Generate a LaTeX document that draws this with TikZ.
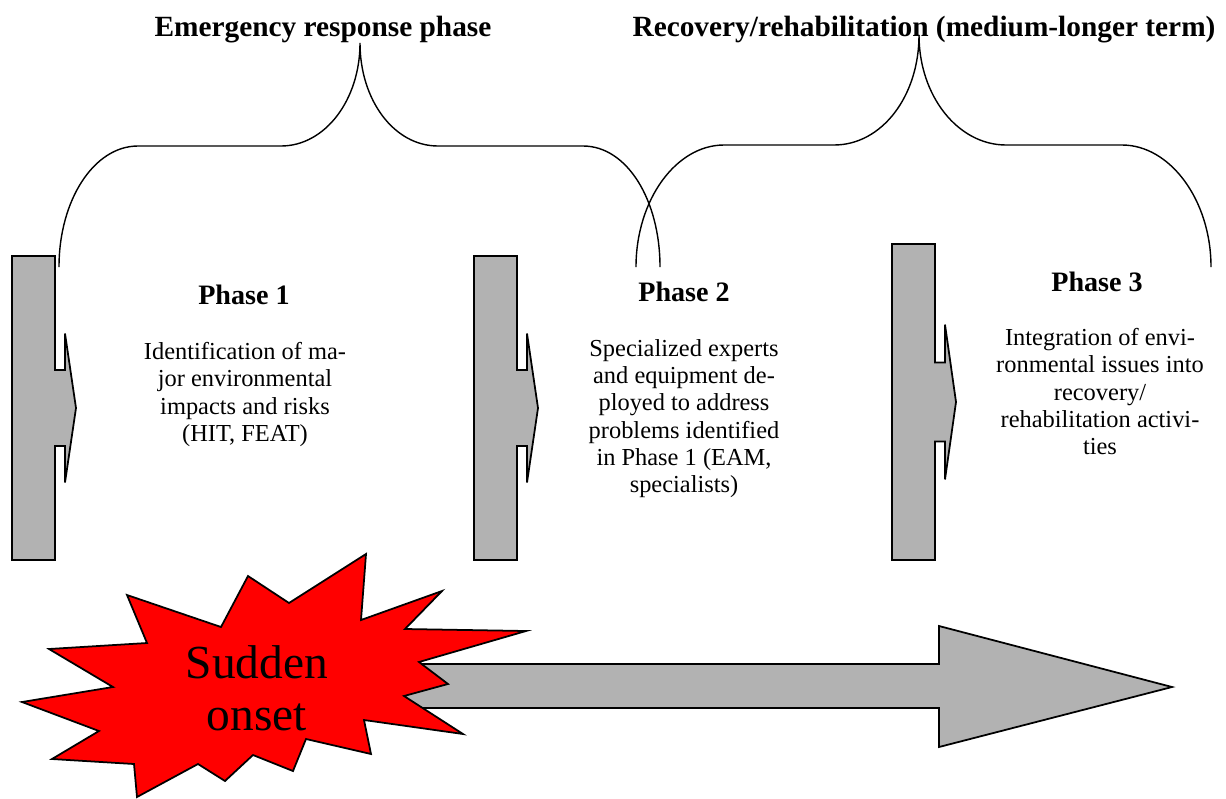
\documentclass[tikz,border=0pt]{standalone}
\usepackage{fontspec}
\setmainfont{Liberation Serif}
\usetikzlibrary{positioning,calc}
\tikzset{
    %Define style for shapes
    barshape/.style={
        draw=black, line width=1pt,
        fill=black!30,
    },
    bigarrow/.style={
        draw=black, line width=1pt,
        fill=black!30,
    },
    burst/.style={
        draw=black, line width=1pt,
        fill=red,
    },
    brace/.style={
        draw=black, line width=0.8pt,
    },
    heading/.style={
        inner sep=0pt,
        anchor=base,
        font=\fontsize{16}{19}\selectfont\bfseries,
    },
    title/.style={
        heading,
        font=\fontsize{16.7}{20}\selectfont\bfseries,
    },
    phasetxt/.style={
        inner sep=0pt,
        anchor=north,
        align=center,
        font=\fontsize{13.9}{15.5}\selectfont,
    },
    bursttxt/.style={
        inner sep=0pt,
        anchor=north,
        align=center,
        font=\fontsize{27}{30}\selectfont,
    },
}
% bar with notched arrow, #1 = left edge, #2 = top (bottom is 560)
\newcommand{\phasebar}[2]{%
    \pgfmathsetmacro{\barmid}{(#2+560)/2}
    \pgfmathsetmacro{\barnotch}{0.125*(560-#2)}
    \pgfmathsetmacro{\barhead}{0.245*(560-#2)}
    \path[barshape] (#1,#2) -- ({#1+43},#2) -- ({#1+43},{\barmid-\barnotch})
        -- ({#1+53},{\barmid-\barnotch}) -- ({#1+53},{\barmid-\barhead})
        -- ({#1+64},\barmid) -- ({#1+53},{\barmid+\barhead})
        -- ({#1+53},{\barmid+\barnotch}) -- ({#1+43},{\barmid+\barnotch})
        -- ({#1+43},560) -- (#1,560) -- cycle;
}

\begin{document}
\begin{tikzpicture}[x=0.02cm,y=-0.02cm]
    \useasboundingbox (0,0) rectangle (1226,798);

    % titles
    \node[title] (ttl1) at (323,36) {Emergency response phase};
    \node[title] (ttl2) at (924,36) {Recovery/rehabilitation (medium-longer term)};

    % braces
    \coordinate (b1l) at (59,267);
    \coordinate (b1t) at (360,43);
    \coordinate (b1r) at (660,267);
    \coordinate (b2l) at (636,267);
    \coordinate (b2t) at (919,35);
    \coordinate (b2r) at (1211,267);
    \draw[brace] (b1l) .. controls +(0,-67) and +(-44,0) .. (138,146) -- (281,146)
        .. controls +(44,0) and +(0,57) .. (b1t)
        .. controls +(0,57) and +(-44,0) .. (438,146) -- (583,146)
        .. controls +(44,0) and +(0,-67) .. (b1r);
    \draw[brace] (b2l) .. controls +(0,-67) and +(-48,0) .. (724,145) -- (834,145)
        .. controls +(48,0) and +(0,61) .. (b2t)
        .. controls +(0,61) and +(-48,0) .. (1006,145) -- (1122,145)
        .. controls +(48,0) and +(0,-67) .. (b2r);

    % phase bars
    \phasebar{12}{256}
    \phasebar{474}{256}
    \phasebar{892}{244}

    % phase texts
    \node[heading] (ph1) at (244,304) {Phase 1};
    \node[heading] (ph2) at (684,301) {Phase 2};
    \node[heading] (ph3) at (1097,291) {Phase 3};
    \node[phasetxt] (txt1) at (245,342) {Identification of ma-\\jor environmental\\impacts and risks\\(HIT, FEAT)};
    \node[phasetxt] (txt2) at (684,339) {Specialized experts\\and equipment de-\\ployed to address\\problems identified\\in Phase 1 (EAM,\\specialists)};
    \node[phasetxt] (txt3) at (1100,328) {Integration of envi-\\ronmental issues into\\recovery/\\rehabilitation activi-\\ties};

    % time arrow
    \path[bigarrow] (400,664) -- (939,664) -- (939,626) -- (1172,687)
        -- (939,747) -- (939,708) -- (400,708) -- cycle;

    % sudden onset
    \path[burst] (366,554) -- (361,620) -- (442,591) -- (405,629) -- (526,631)
        -- (419,662) -- (448,684) -- (404,696) -- (463,734) -- (364,720)
        -- (371,754) -- (306,739) -- (293,771) -- (253,755) -- (225,781)
        -- (198,764) -- (137,797) -- (134,764) -- (52,759) -- (99,731)
        -- (22,702) -- (113,687) -- (49,649) -- (147,643) -- (127,595)
        -- (221,627) -- (248,576) -- (289,603) -- cycle;
    \node[bursttxt] (onset) at (257,645) {Sudden\\onset};
\end{tikzpicture}
\end{document}
